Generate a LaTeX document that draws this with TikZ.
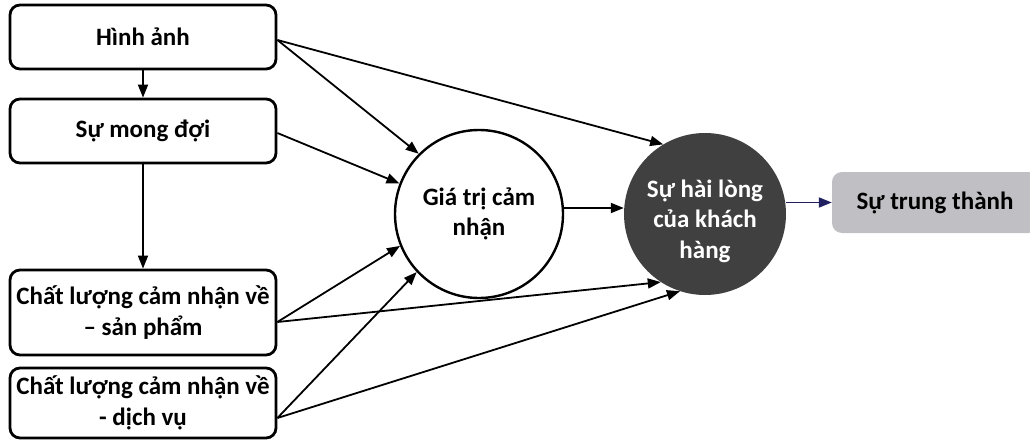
\documentclass[tikz,border=0pt]{standalone}
\usepackage{fontspec}
\setmainfont{Carlito}
\usetikzlibrary{arrows.meta}
\definecolor{darkfill}{RGB}{64,64,64}
\definecolor{boxgray}{RGB}{191,191,196}
\definecolor{navyline}{RGB}{32,32,96}
\tikzset{
  lbl/.style={font=\fontsize{25}{30.5}\selectfont\bfseries, align=center},
  leftbox/.style={lbl, draw, line width=2.8pt, rounded corners=10pt, minimum width=266pt, inner sep=0pt},
  arr/.style={line width=1.8pt, -{Triangle[length=13pt,width=10pt]}},
}
\begin{document}
\begin{tikzpicture}[x=1pt,y=-1pt]
\useasboundingbox (0,0) rectangle (1030,441);
\node[leftbox, minimum height=64pt] (b1) at (143,37) {Hình ảnh};
\node[leftbox, minimum height=64pt] (b2) at (143,131) {Sự mong đợi};
\node[leftbox, minimum height=85pt] (b3) at (143,312.5) {Chất lượng cảm nhận về\\– sản phẩm};
\node[leftbox, minimum height=70pt] (b4) at (143,403) {Chất lượng cảm nhận về\\- dịch vụ};
\node[lbl, circle, draw, line width=2.4pt, minimum size=168pt, inner sep=0pt] (g) at (479,214) {Giá trị cảm\\nhận};
\node[circle, fill=darkfill, minimum size=162pt, inner sep=0pt] (h) at (705,214) {};
\node[lbl, text=white] (hl) at (705,221) {Sự hài lòng\\của khách\\hàng};
\node[lbl, fill=boxgray, rounded corners=10pt, minimum width=206pt, minimum height=61pt, inner sep=0pt] (t) at (935,202.5) {Sự trung thành};
% vertical arrows
\draw[arr] (b1.south) -- (b2.north);
\draw[arr] (b2.south) -- (b3.north);
% from Hinh anh
\coordinate (s1) at ([yshift=-3pt]b1.east);
\draw[arr] (s1) -- (g.135);
\draw[arr] (s1) -- (h.121);
% from Su mong doi
\draw[arr] ([yshift=-2pt]b2.east) -- (g.159);
% from chat luong san pham
\coordinate (s3) at ([yshift=-9.5pt]b3.east);
\draw[arr] (s3) -- (g.202);
\draw[arr] (s3) -- (h.237);
% from chat luong dich vu
\coordinate (s4) at ([yshift=-15pt]b4.east);
\draw[arr] (s4) -- (g.223);
\draw[arr] (s4) -- (h.252);
% value -> satisfaction
\draw[arr] ([yshift=6pt]g.east) -- ([yshift=6pt]h.west);
% satisfaction -> loyalty
\draw[arr, draw=navyline, fill=navyline] (h.east |- t.west) -- (t.west);
\end{tikzpicture}
\end{document}
